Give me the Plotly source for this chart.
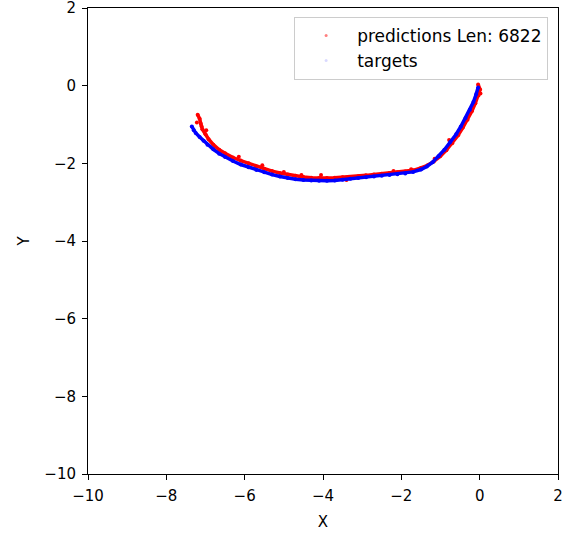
import plotly.graph_objects as go

# targets (blue) path
tgt_x = [-7.35, -7.30, -7.25, -7.15, -7.05, -6.95, -6.80, -6.65, -6.50, -6.30, -6.10, -5.90,
         -5.70, -5.50, -5.30, -5.10, -4.90, -4.70, -4.50, -4.30, -4.10, -3.90, -3.70, -3.50,
         -3.30, -3.10, -2.90, -2.70, -2.50, -2.30, -2.10, -1.90, -1.70, -1.50, -1.35, -1.20,
         -1.05, -0.90, -0.75, -0.60, -0.48, -0.36, -0.25, -0.16, -0.09, -0.04]
tgt_y = [-1.05, -1.15, -1.22, -1.32, -1.42, -1.52, -1.64, -1.75, -1.84, -1.94, -2.03, -2.10,
         -2.17, -2.23, -2.29, -2.34, -2.38, -2.41, -2.43, -2.44, -2.45, -2.45, -2.44, -2.42,
         -2.40, -2.38, -2.36, -2.34, -2.32, -2.30, -2.28, -2.26, -2.22, -2.16, -2.08, -1.97,
         -1.82, -1.65, -1.45, -1.25, -1.05, -0.83, -0.62, -0.42, -0.22, -0.05]

# predictions (red) path
pred_x = [-7.20, -7.15, -7.12, -7.08, -7.00, -6.92, -6.80, -6.65, -6.50, -6.30, -6.10, -5.90,
          -5.70, -5.50, -5.30, -5.10, -4.90, -4.70, -4.50, -4.30, -4.10, -3.90, -3.70, -3.50,
          -3.30, -3.10, -2.90, -2.70, -2.50, -2.30, -2.10, -1.90, -1.70, -1.50, -1.33, -1.17,
          -1.01, -0.85, -0.70, -0.55, -0.43, -0.31, -0.20, -0.11, -0.03, 0.01, -0.04]
pred_y = [-0.75, -0.85, -0.98, -1.12, -1.25, -1.38, -1.52, -1.65, -1.74, -1.85, -1.93, -2.00,
          -2.08, -2.14, -2.20, -2.25, -2.29, -2.32, -2.35, -2.37, -2.38, -2.38, -2.37, -2.36,
          -2.35, -2.33, -2.31, -2.29, -2.27, -2.25, -2.23, -2.21, -2.18, -2.12, -2.05, -1.95,
          -1.82, -1.66, -1.48, -1.28, -1.08, -0.88, -0.66, -0.45, -0.25, -0.10, 0.03]

# scattered prediction points
pout_x = [-7.22, -6.98, -6.15, -5.55, -4.55, -4.05, -3.40, -2.20, -1.75, -1.15, -0.78, 0.02, -7.10, -5.00]
pout_y = [-0.95, -1.15, -1.83, -2.05, -2.30, -2.30, -2.43, -2.20, -2.15, -1.88, -1.40, -0.20, -1.05, -2.22]

tick_vals = [-10, -8, -6, -4, -2, 0, 2]

fig = go.Figure()
fig.add_trace(go.Scatter(x=pred_x, y=pred_y, mode="lines+markers",
                         line=dict(color="red", width=3.5), marker=dict(color="red", size=4),
                         showlegend=False))
fig.add_trace(go.Scatter(x=pout_x, y=pout_y, mode="markers",
                         marker=dict(color="red", size=4), showlegend=False))
fig.add_trace(go.Scatter(x=tgt_x, y=tgt_y, mode="lines+markers",
                         line=dict(color="blue", width=3.5), marker=dict(color="blue", size=4),
                         showlegend=False))
# legend entries
fig.add_trace(go.Scatter(x=[None], y=[None], mode="markers", name="predictions Len: 6822",
                         marker=dict(color="rgba(255,0,0,0.5)", size=3)))
fig.add_trace(go.Scatter(x=[None], y=[None], mode="markers", name="targets",
                         marker=dict(color="rgba(0,0,255,0.15)", size=3)))

axis_common = dict(range=[-10, 2], tickvals=tick_vals, ticks="outside", ticklen=5,
                   tickcolor="black", showline=True, linecolor="black", linewidth=1,
                   mirror=True, showgrid=False, zeroline=False, automargin=False,
                   ticklabeloverflow="allow", ticklabelstandoff=3,
                   tickfont=dict(family="DejaVu Sans", size=15, color="black"))

fig.update_layout(
    width=573, height=533,
    margin=dict(l=88, r=15, t=8, b=59),
    plot_bgcolor="white", paper_bgcolor="white",
    font=dict(family="DejaVu Sans", color="black"),
    xaxis=dict(**axis_common, title=dict(text="X", font=dict(size=15), standoff=12)),
    yaxis=dict(**axis_common, title=dict(text="Y", font=dict(size=15), standoff=11)),
    legend=dict(x=0.979, y=0.981, xanchor="right", yanchor="top",
                bgcolor="rgba(255,255,255,0.8)", bordercolor="#cccccc", borderwidth=1,
                font=dict(size=17), itemsizing="trace", itemwidth=52),
)

fig.write_html("out.html", config={"displayModeBar": False},
               post_script="document.body.style.margin='0';")
